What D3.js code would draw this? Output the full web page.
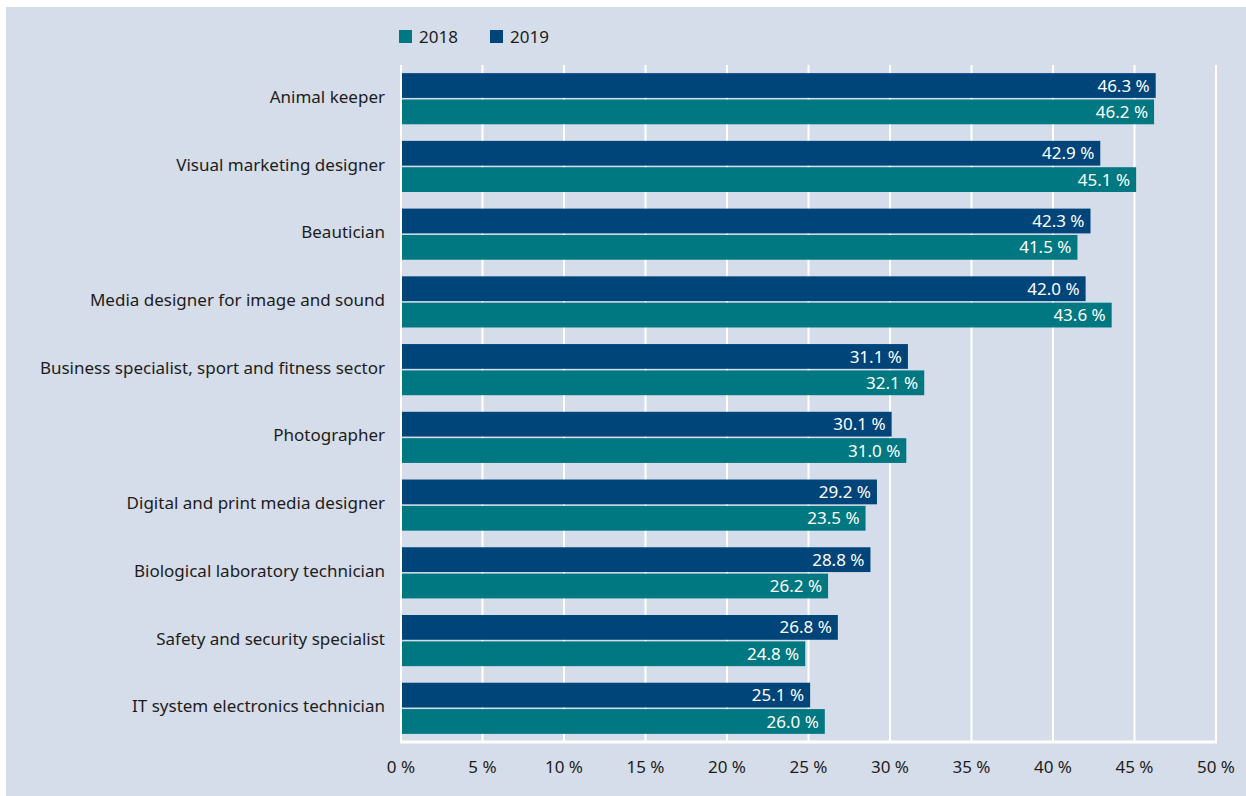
<!DOCTYPE html>
<html>
<head>
<meta charset="utf-8">
<script src="https://cdn.jsdelivr.net/npm/d3@7"></script>
<style>
  body { margin: 0; background: #fff; }
  svg { display: block; font-family: "Noto Sans", "Open Sans", sans-serif; }
</style>
</head>
<body>
<svg id="chart" width="1246" height="796"></svg>
<script>
const categories = [
  'Animal keeper',
  'Visual marketing designer',
  'Beautician',
  'Media designer for image and sound',
  'Business specialist, sport and fitness sector',
  'Photographer',
  'Digital and print media designer',
  'Biological laboratory technician',
  'Safety and security specialist',
  'IT system electronics technician'
];
const values2019 = [46.3, 42.9, 42.3, 42.0, 31.1, 30.1, 29.2, 28.8, 26.8, 25.1];
// bar lengths as drawn in the picture (digital/print 2018 bar is drawn at ~28.5)
const values2018 = [46.2, 45.1, 41.5, 43.6, 32.1, 31.0, 28.5, 26.2, 24.8, 26.0];
// printed labels
const labels2019 = ['46.3 %', '42.9 %', '42.3 %', '42.0 %', '31.1 %', '30.1 %', '29.2 %', '28.8 %', '26.8 %', '25.1 %'];
const labels2018 = ['46.2 %', '45.1 %', '41.5 %', '43.6 %', '32.1 %', '31.0 %', '23.5 %', '26.2 %', '24.8 %', '26.0 %'];
const years = ['2019', '2018'];
const legendYears = ['2018', '2019'];
const xTicks = [0, 5, 10, 15, 20, 25, 30, 35, 40, 45, 50];

const COLORS = { '2018': '#007882', '2019': '#00457a' };
const BG = '#d5dcea';
const INK = '#1d1d1b';

const svg = d3.select('#chart');

// panel background, slight white edge on top/left
svg.append('rect')
  .attr('x', 6).attr('y', 7)
  .attr('width', 1240).attr('height', 789)
  .attr('fill', BG);

const x = d3.scaleLinear().domain([0, 50]).range([401, 1216]);
const y = d3.scaleBand()
  .domain(categories)
  .range([65, 742])
  .paddingInner(0.245)
  .paddingOuter(0.12);
const yInner = d3.scaleBand()
  .domain(years)
  .range([0, y.bandwidth()])
  .paddingInner(0.06);

// gridlines
svg.append('g')
  .selectAll('line')
  .data(xTicks)
  .join('line')
  .attr('x1', (d) => x(d)).attr('x2', (d) => x(d))
  .attr('y1', 65).attr('y2', 742)
  .attr('stroke', '#fff')
  .attr('stroke-width', 2);

// bottom axis line
svg.append('line')
  .attr('x1', x(0) - 1).attr('x2', x(50) + 1)
  .attr('y1', 742).attr('y2', 742)
  .attr('stroke', '#fff')
  .attr('stroke-width', 3);

const rows = categories.map((c, i) => ({
  cat: c,
  bars: [
    { yr: '2019', v: values2019[i], label: labels2019[i] },
    { yr: '2018', v: values2018[i], label: labels2018[i] }
  ]
}));

const groups = svg.append('g')
  .selectAll('g')
  .data(rows)
  .join('g')
  .attr('transform', (d) => `translate(0,${y(d.cat)})`);

const bars = groups.selectAll('g')
  .data((d) => d.bars)
  .join('g');

bars.append('rect')
  .attr('x', x(0) + 1)
  .attr('y', (d) => yInner(d.yr))
  .attr('width', (d) => x(d.v) - x(0) - 1)
  .attr('height', yInner.bandwidth())
  .attr('fill', (d) => COLORS[d.yr]);

bars.append('text')
  .attr('x', (d) => x(d.v) - 6)
  .attr('y', (d) => yInner(d.yr) + yInner.bandwidth() / 2)
  .attr('dy', '0.36em')
  .attr('text-anchor', 'end')
  .attr('fill', '#fff')
  .attr('font-size', 17)
  .text((d) => d.label);

// category labels
groups.append('text')
  .attr('x', 385)
  .attr('y', y.bandwidth() / 2 - 2)
  .attr('dy', '0.36em')
  .attr('text-anchor', 'end')
  .attr('fill', INK)
  .attr('font-size', 17)
  .text((d) => d.cat);

// x tick labels
svg.append('g')
  .selectAll('text')
  .data(xTicks)
  .join('text')
  .attr('x', (d) => x(d))
  .attr('y', 767)
  .attr('dy', '0.36em')
  .attr('text-anchor', 'middle')
  .attr('fill', INK)
  .attr('font-size', 17)
  .text((d) => d + ' %');

// legend
const legend = svg.append('g')
  .selectAll('g')
  .data(legendYears)
  .join('g')
  .attr('transform', (d, i) => `translate(${399 + i * 91},30)`);
legend.append('rect')
  .attr('width', 13).attr('height', 13)
  .attr('fill', (d) => COLORS[d]);
legend.append('text')
  .attr('x', 20)
  .attr('y', 7)
  .attr('dy', '0.36em')
  .attr('fill', INK)
  .attr('font-size', 17)
  .text((d) => d);
</script>
</body>
</html>
